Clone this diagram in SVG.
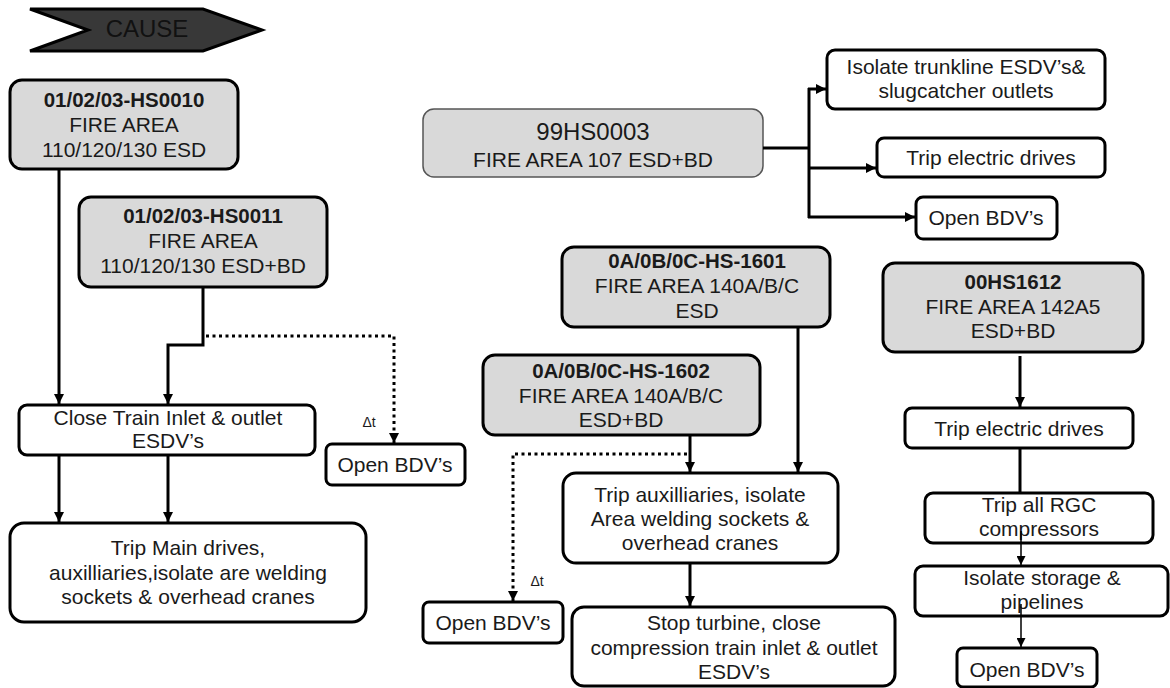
<svg xmlns="http://www.w3.org/2000/svg" width="1170" height="688" viewBox="0 0 1170 688">
<style>
text{font-family:"Liberation Sans",Arial,sans-serif;font-size:21px;fill:#1a1a1a;text-anchor:middle}
.b{font-weight:bold;font-size:20.5px}
.g{fill:#d9d9d9;stroke:#000;stroke-width:3}
.w{fill:#fff;stroke:#000;stroke-width:3}
.c{fill:none;stroke:#000;stroke-width:3}
.d{fill:none;stroke:#000;stroke-width:3;stroke-dasharray:3 3.5}
.t{fill:none;stroke:#000;stroke-width:1.5}
.dt{font-size:14px}
</style>
<defs>
<marker id="a" viewBox="0 0 10 10" refX="10" refY="5" markerWidth="10" markerHeight="10" markerUnits="userSpaceOnUse" orient="auto"><path d="M0,0 L10,5 L0,10 z" fill="#000"/></marker>
<marker id="s" viewBox="0 0 10 10" refX="10" refY="5" markerWidth="9" markerHeight="9" markerUnits="userSpaceOnUse" orient="auto"><path d="M0,0 L10,5 L0,10 z" fill="#000"/></marker>
</defs>
<g id="cause">
<polygon points="30,9 203,9 262,30 203,51 30,51 88,30" fill="#383838" stroke="#000" stroke-width="3"/>
<text x="147" y="37" style="font-size:24px;fill:#111">CAUSE</text>
</g>
<g id="n_hs0010">
<rect class="g" x="10" y="80" width="228" height="89" rx="12"/>
<text class="b" x="124" y="107">01/02/03-HS0010</text>
<text x="124" y="132">FIRE AREA</text>
<text x="124" y="157">110/120/130 ESD</text>
</g>
<g id="n_hs0011">
<rect class="g" x="79" y="197" width="248" height="90" rx="12"/>
<text class="b" x="203" y="223">01/02/03-HS0011</text>
<text x="203" y="248">FIRE AREA</text>
<text x="203" y="273">110/120/130 ESD+BD</text>
</g>
<g id="n_close_train">
<rect class="w" x="19" y="405" width="296" height="50" rx="8"/>
<text x="168" y="425">Close Train Inlet &amp; outlet</text>
<text x="168" y="448">ESDV’s</text>
</g>
<g id="n_open_bdv1">
<rect class="w" x="326" y="444" width="139" height="41" rx="6"/>
<text x="395" y="472">Open BDV’s</text>
</g>
<g id="n_trip_main">
<rect class="w" x="10" y="523" width="356" height="99" rx="14"/>
<text x="188" y="555">Trip Main drives,</text>
<text x="188" y="580">auxilliaries,isolate are welding</text>
<text x="188" y="604">sockets &amp; overhead cranes</text>
</g>
<g id="n_99hs0003">
<rect x="423" y="109" width="340" height="68" rx="11" fill="#d9d9d9" stroke="#555" stroke-width="1.5"/>
<text x="593" y="140" style="font-size:24px">99HS0003</text>
<text x="593" y="167">FIRE AREA 107 ESD+BD</text>
</g>
<g id="n_isolate_trunk">
<rect class="w" x="827" y="50" width="278" height="59" rx="8"/>
<text x="966" y="74">Isolate trunkline ESDV’s&amp;</text>
<text x="966" y="98">slugcatcher outlets</text>
</g>
<g id="n_trip_elec1">
<rect class="w" x="877" y="138" width="228" height="39" rx="7"/>
<text x="991" y="165">Trip electric drives</text>
</g>
<g id="n_open_bdv2">
<rect class="w" x="916" y="197" width="141" height="42" rx="7"/>
<text x="986" y="225">Open BDV’s</text>
</g>
<g id="n_hs1601">
<rect class="g" x="562" y="247" width="268" height="80" rx="12"/>
<text class="b" x="697" y="268">0A/0B/0C-HS-1601</text>
<text x="697" y="293">FIRE AREA 140A/B/C</text>
<text x="697" y="318">ESD</text>
</g>
<g id="n_hs1602">
<rect class="g" x="483" y="355" width="277" height="80" rx="12"/>
<text class="b" x="621" y="378">0A/0B/0C-HS-1602</text>
<text x="621" y="403">FIRE AREA 140A/B/C</text>
<text x="621" y="427">ESD+BD</text>
</g>
<g id="n_trip_aux">
<rect class="w" x="563" y="473" width="275" height="90" rx="13"/>
<text x="700" y="502">Trip auxilliaries, isolate</text>
<text x="700" y="526">Area welding sockets &amp;</text>
<text x="700" y="550">overhead cranes</text>
</g>
<g id="n_open_bdv3">
<rect class="w" x="423" y="602" width="140" height="41" rx="6"/>
<text x="493" y="630">Open BDV’s</text>
</g>
<g id="n_stop_turbine">
<rect class="w" x="572" y="607" width="323" height="79" rx="12"/>
<text x="734" y="630">Stop turbine, close</text>
<text x="734" y="655">compression train inlet &amp; outlet</text>
<text x="734" y="679">ESDV’s</text>
</g>
<g id="n_00hs1612">
<rect class="g" x="883" y="263" width="260" height="89" rx="12"/>
<text class="b" x="1013" y="289">00HS1612</text>
<text x="1013" y="314">FIRE AREA 142A5</text>
<text x="1013" y="338">ESD+BD</text>
</g>
<g id="n_trip_elec2">
<rect class="w" x="905" y="408" width="228" height="40" rx="7"/>
<text x="1019" y="436">Trip electric drives</text>
</g>
<g id="n_trip_rgc">
<rect class="w" x="925" y="493" width="228" height="50" rx="8"/>
<text x="1039" y="512">Trip all RGC</text>
<text x="1039" y="536">compressors</text>
</g>
<g id="n_isolate_storage">
<rect class="w" x="915" y="566" width="253" height="50" rx="8"/>
<text x="1042" y="585">Isolate storage &amp;</text>
<text x="1042" y="609">pipelines</text>
</g>
<g id="n_open_bdv4">
<rect class="w" x="957" y="648" width="140" height="39" rx="6"/>
<text x="1027" y="677">Open BDV’s</text>
</g>
<g id="connectors">
<path class="c" d="M59,169 V404" marker-end="url(#a)"/>
<path class="c" d="M203,287 V345 H168 V404" marker-end="url(#a)"/>
<path class="d" d="M206,336 H394 V443" marker-end="url(#a)"/>
<text class="dt" x="369" y="427">Δt</text>
<path class="c" d="M59,455 V522" marker-end="url(#a)"/>
<path class="c" d="M168,455 V522" marker-end="url(#a)"/>
<path class="c" d="M763,148 H809 M809,88 V218"/>
<path class="c" d="M808,89 H826" marker-end="url(#a)"/>
<path class="c" d="M808,168 H876" marker-end="url(#a)"/>
<path class="c" d="M808,217 H915" marker-end="url(#a)"/>
<path class="c" d="M798,327 V472" marker-end="url(#a)"/>
<path class="c" d="M690,435 V472" marker-end="url(#a)"/>
<path class="d" d="M687,454 H513 V601" marker-end="url(#a)"/>
<text class="dt" x="537" y="586">Δt</text>
<path class="c" d="M690,563 V606" marker-end="url(#a)"/>
<path class="c" d="M1020,356 V407" marker-end="url(#a)"/>
<path class="c" d="M1020,448 V493"/>
<path class="t" d="M1021,531 V565" marker-end="url(#s)"/>
<path class="t" d="M1021,604 V647" marker-end="url(#s)"/>
</g>
</svg>
